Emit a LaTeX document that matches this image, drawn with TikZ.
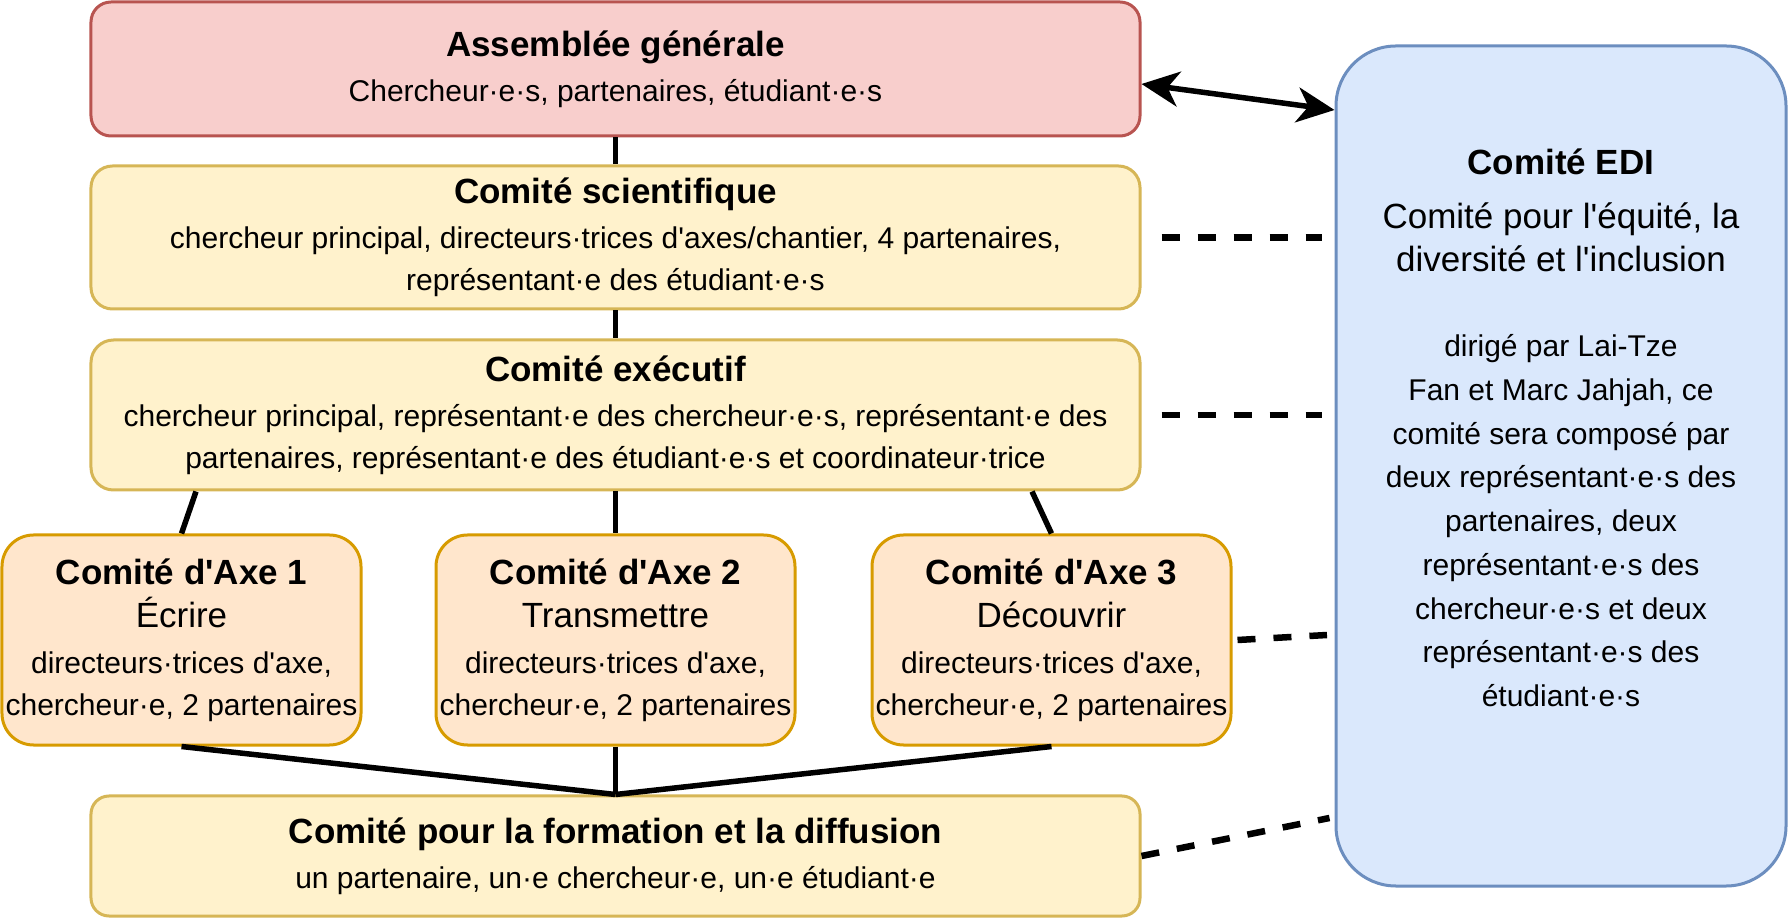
\documentclass[tikz,border=0pt]{standalone}
\usepackage{fontspec}
\setmainfont{Liberation Sans}[Ligatures=TeXOff]
\usetikzlibrary{arrows.meta}

\definecolor{redfill}{HTML}{F8CECC}
\definecolor{redline}{HTML}{B85450}
\definecolor{yelfill}{HTML}{FFF2CC}
\definecolor{yelline}{HTML}{D6B656}
\definecolor{orafill}{HTML}{FFE6CC}
\definecolor{oraline}{HTML}{D79B00}
\definecolor{blufill}{HTML}{DAE8FC}
\definecolor{bluline}{HTML}{6C8EBF}

\newcommand\boxtitle[1]{{\fontsize{14}{16.8}\selectfont\bfseries #1}}
\newcommand\boxsub[1]{{\fontsize{14}{16.8}\selectfont #1}}

\begin{document}
\begin{tikzpicture}[x=0.4pt,y=-0.4pt,
  box/.style={draw, line width=1.2pt, align=center, inner sep=0pt,
    font=\fontsize{12}{16.8}\selectfont},
  wide/.style={box, minimum width=419.6pt},
  axebox/.style={box, draw=oraline, fill=orafill, rounded corners=12.6pt,
    minimum width=143.6pt, minimum height=84pt},
  link/.style={line width=2.2pt},
  edilink/.style={line width=2.6pt, dash pattern=on 7.2pt off 7.2pt},
  twoway/.style={line width=2.2pt,
    {Stealth[length=15pt,width=14pt,inset=4.5pt]}-{Stealth[length=15pt,width=14pt,inset=4.5pt]}}
]
\useasboundingbox (0,0) rectangle (1788,918);

% governance chain
\node[wide, draw=redline, fill=redfill, rounded corners=8pt, minimum height=53.6pt]
  (ag) at (615.5,69)
  {\boxtitle{Assemblée générale}\\[1.2pt]
   Chercheur·e·s, partenaires, étudiant·e·s};

\node[wide, draw=yelline, fill=yelfill, rounded corners=8.6pt, minimum height=57.2pt]
  (sci) at (615.5,237.5)
  {\boxtitle{Comité scientifique}\\[1.2pt]
   chercheur principal, directeurs·trices d'axes/chantier, 4 partenaires,\\
   représentant·e des étudiant·e·s};

\node[wide, draw=yelline, fill=yelfill, rounded corners=9pt, minimum height=60pt]
  (exe) at (615.5,415)
  {\boxtitle{Comité exécutif}\\[1.2pt]
   chercheur principal, représentant·e des chercheur·e·s, représentant·e des\\
   partenaires, représentant·e des étudiant·e·s et coordinateur·trice};

% axis committees
\node[axebox] (axe1) at (181.5,640)
  {\boxtitle{Comité d'Axe 1}\\[0.4pt]
   \boxsub{Écrire}\\[1.6pt]
   directeurs·trices d'axe,\\
   chercheur·e, 2 partenaires};
\node[axebox] (axe2) at (615.5,640)
  {\boxtitle{Comité d'Axe 2}\\[0.4pt]
   \boxsub{Transmettre}\\[1.6pt]
   directeurs·trices d'axe,\\
   chercheur·e, 2 partenaires};
\node[axebox] (axe3) at (1051.5,640)
  {\boxtitle{Comité d'Axe 3}\\[0.4pt]
   \boxsub{Découvrir}\\[1.6pt]
   directeurs·trices d'axe,\\
   chercheur·e, 2 partenaires};

\node[wide, draw=yelline, fill=yelfill, rounded corners=7.2pt, minimum height=48pt]
  (form) at (615.5,856)
  {\boxtitle{Comité pour la formation et la diffusion}\\[1.2pt]
   un partenaire, un·e chercheur·e, un·e étudiant·e};

% EDI committee
\node[box, draw=bluline, fill=blufill, rounded corners=24pt,
  minimum width=180pt, minimum height=336pt] (edi) at (1561,466) {};
\node[align=center, inner sep=0pt, font=\fontsize{12}{17.5}\selectfont]
  (editext) at (1561,428)
  {\boxtitle{Comité EDI}\\[4.1pt]
   \boxsub{Comité pour l'équité, la}\\[-0.3pt]
   \boxsub{diversité et l'inclusion}\\[16.5pt]
   dirigé par Lai-Tze\\
   Fan et Marc Jahjah, ce\\
   comité sera composé par\\
   deux représentant·e·s des\\
   partenaires, deux\\
   représentant·e·s des\\
   chercheur·e·s et deux\\
   représentant·e·s des\\
   étudiant·e·s};

% hierarchy links
\draw[link] (ag.south) -- (sci.north);
\draw[link] (sci.south) -- (exe.north);
\draw[link] (exe.south -| 196,0) -- (axe1.north);
\draw[link] (exe.south -| axe2.north) -- (axe2.north);
\draw[link] (exe.south -| 1032,0) -- (axe3.north);
\coordinate (join) at (form.north);
\draw[link] (axe1.south) -- (join);
\draw[link] (axe2.south) -- (join);
\draw[link] (axe3.south) -- (join);

% links to the EDI committee
\draw[twoway] (ag.east |- 0,84) -- (edi.west |- 0,110);
\draw[edilink] ([xshift=8pt]sci.east) -- ([xshift=-5pt]edi.west |- sci.east);
\draw[edilink] ([xshift=8pt]exe.east) -- ([xshift=-5pt]edi.west |- exe.east);
\draw[edilink] ([xshift=2pt]axe3.east) -- ([xshift=-3pt]edi.west |- 0,635);
\draw[edilink] (form.east) -- ([xshift=-2pt]edi.west |- 0,818);
\end{tikzpicture}
\end{document}
